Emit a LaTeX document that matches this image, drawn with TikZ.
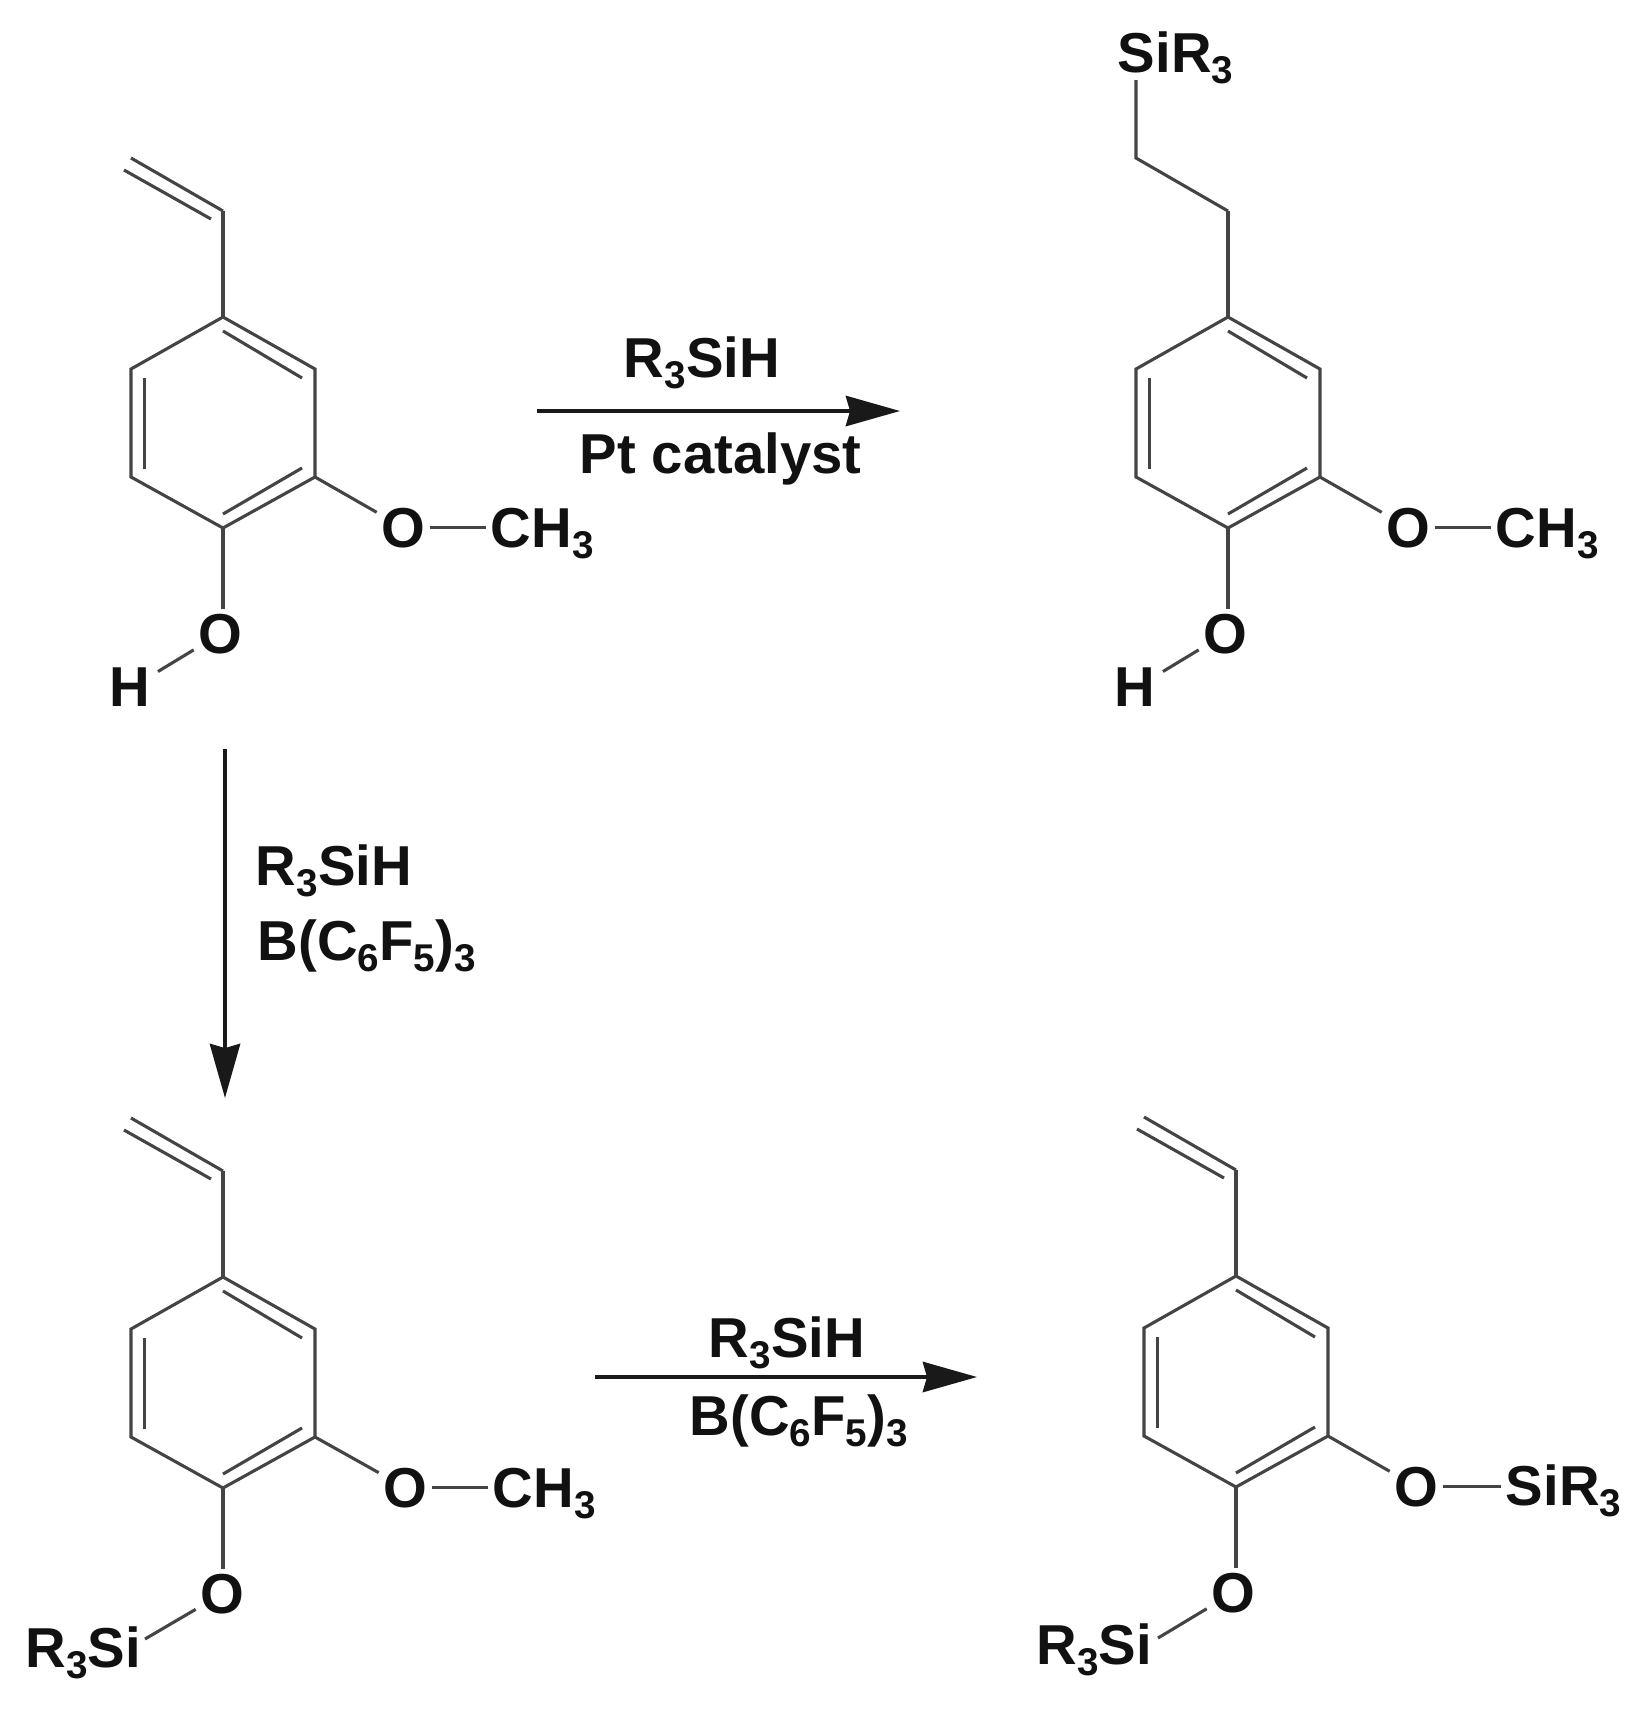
\documentclass[tikz,border=0pt]{standalone}
\usepackage{fontspec}
\setmainfont{Liberation Sans}
\usetikzlibrary{arrows.meta,calc}
\definecolor{bondgrey}{HTML}{444444}
\definecolor{inkblack}{HTML}{111111}
\newcommand{\sbs}[1]{\raisebox{-0.2em}{\fontsize{11}{13}\selectfont #1}}
\newcommand{\oshift}{0}
\tikzset{
  bond/.style={draw=bondgrey,line width=0.88pt,line join=miter},
  atom/.style={inner sep=1.2pt,text=inkblack,font=\fontsize{16}{19}\selectfont\bfseries},
  rarrow/.style={draw=black!90,line width=1.05pt,-{Stealth[length=15.4pt,width=8.6pt,inset=1.2pt]}},
}
% ring, upper stem, two oxygens; coordinates are relative to the first molecule
\newcommand{\core}[3]{%
\begin{scope}[shift={(#2,#3)},name prefix=#1-]
  \coordinate (t) at (223,317);
  \coordinate (rt) at (315,369);
  \coordinate (rb) at (315,477);
  \coordinate (b) at (223,528);
  \coordinate (lb) at (131,477);
  \coordinate (lt) at (131,369);
  \coordinate (v) at (223,211);
  \coordinate (i1a) at (223,331); \coordinate (i1b) at (302,378);
  \coordinate (i2a) at (144.5,378); \coordinate (i2b) at (144.5,469);
  \coordinate (i3a) at (223,514); \coordinate (i3b) at (302,468);
  \draw[bond] (t) -- (rt) -- (rb) -- (b) -- (lb) -- (lt) -- cycle;
  \draw[bond] (i1a) -- (i1b);
  \draw[bond] (i2a) -- (i2b);
  \draw[bond] (i3a) -- (i3b);
  \draw[bond] (t) -- (v);
  \node[atom,anchor=base] (o1) at (220.5+\oshift,653) {O};
  \node[atom,anchor=base] (o2) at (403.5+\oshift,547) {O};
  \draw[bond] (b) -- (b |- o1.north);
  \draw[bond] (rb) -- (o2);
\end{scope}}
\newcommand{\vinyl}[3]{%
\begin{scope}[shift={(#2,#3)},name prefix=#1-]
  \coordinate (ve) at (131,158);
  \coordinate (via) at (124,170); \coordinate (vib) at (211,219);
  \draw[bond] (v) -- (ve);
  \draw[bond] (via) -- (vib);
\end{scope}}
\newcommand{\methoxy}[3]{%
\begin{scope}[shift={(#2,#3)},name prefix=#1-]
  \node[atom,anchor=base west] (me) at (486+\oshift,547) {CH\sbs{3}};
  \draw[bond,line width=0.95pt] (o2) -- (o2 -| me.west);
\end{scope}}
\newcommand{\hydroxyl}[3]{%
\begin{scope}[shift={(#2,#3)},name prefix=#1-]
  \node[atom,anchor=base] (h) at (130,706) {H};
  \coordinate (he) at (158,671.5);
  \draw[bond] (o1) -- (he);
\end{scope}}
\newcommand{\silyl}[3]{%
\begin{scope}[shift={(#2,#3)},name prefix=#1-]
  \node[atom,anchor=base east] (si) at (144+\oshift,705+\oshift) {R\sbs{3}Si};
  \coordinate (se) at (145,679);
  \draw[bond] (o1) -- (se);
\end{scope}}
\begin{document}
\begin{tikzpicture}[x=0.01cm,y=-0.01cm]
\useasboundingbox (0,0) rectangle (1644,1714);
\fill[white] (0,0) rectangle (1644,1714);
% molecule A
\core{a}{0}{0}\vinyl{a}{0}{0}\methoxy{a}{0}{0}\hydroxyl{a}{0}{0}
% molecule B
\core{b}{1005}{0}\methoxy{b}{1005}{0}\hydroxyl{b}{1005}{0}
\coordinate (b-c1) at (1136,158);
\coordinate (b-c2) at (1136,80);
\node[atom,anchor=base] (b-sir) at (1175.5,72) {SiR\sbs{3}};
\draw[bond] (b-v) -- (b-c1) -- (b-c2);
% molecule C
\renewcommand{\oshift}{2}
\core{c}{0}{960}\vinyl{c}{0}{960}\methoxy{c}{0}{960}\silyl{c}{0}{960}
\renewcommand{\oshift}{0}
% molecule D
\core{d}{1013}{959}\vinyl{d}{1013}{959}\silyl{d}{1013}{959}
\node[atom,anchor=base west] (d-sir) at (1501,1505) {SiR\sbs{3}};
\draw[bond,line width=0.95pt] (d-o2) -- (d-o2 -| d-sir.west);
% arrows
\coordinate (ar1a) at (537,411); \coordinate (ar1b) at (900,411);
\draw[rarrow] (ar1a) -- (ar1b);
\node[atom,anchor=base west] (l1) at (619,377) {R\sbs{3}SiH};
\node[atom,anchor=base west] (l2) at (575,473) {Pt catalyst};
\coordinate (ar2a) at (225,749); \coordinate (ar2b) at (225,1098);
\draw[rarrow] (ar2a) -- (ar2b);
\node[atom,anchor=base west] (l3) at (251,885) {R\sbs{3}SiH};
\node[atom,anchor=base west] (l4) at (253,960) {B(C\sbs{6}F\sbs{5})\sbs{3}};
\coordinate (ar3a) at (595,1377); \coordinate (ar3b) at (977,1377);
\draw[rarrow] (ar3a) -- (ar3b);
\node[atom,anchor=base west] (l5) at (704,1357) {R\sbs{3}SiH};
\node[atom,anchor=base west] (l6) at (685,1435) {B(C\sbs{6}F\sbs{5})\sbs{3}};
\end{tikzpicture}
\end{document}
